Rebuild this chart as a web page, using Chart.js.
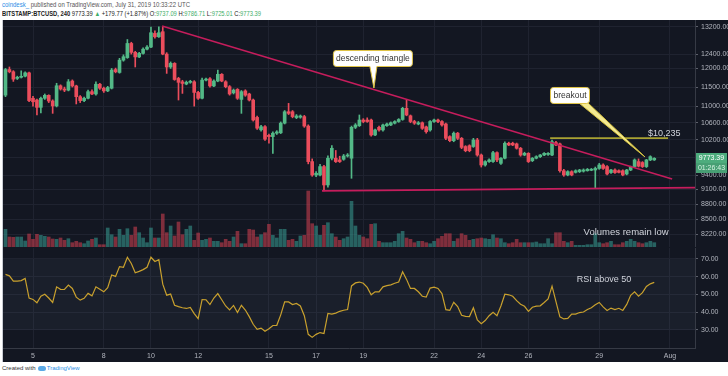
<!DOCTYPE html>
<html>
<head>
<meta charset="utf-8">
<script src="https://cdn.jsdelivr.net/npm/chart.js@4.4.0/dist/chart.umd.min.js"></script>
<style>
body { margin: 0; width: 728px; height: 376px; background: #fff; position: relative; overflow: hidden; font-family: 'Liberation Sans', Arial, sans-serif; }
.line { position: absolute; left: 2px; font-size: 6px; line-height: 8px; white-space: nowrap; color: #555; transform-origin: 0 0; transform: scaleY(1.2); }
#head1 { top: 0px; }
#head2 { top: 9px; color: #222; font-size: 5.8px; }
.brand { color: #2a8ee6; }
.up { color: #3fae6a; }
#frame { position: absolute; left: 2px; top: 20px; width: 725px; height: 342px; background: #131722; border-left: 1px solid #c9ccd3; }
#mainWrap { position: absolute; left: 0; top: 20px; }
#rsiWrap { position: absolute; left: 0; top: 248px; }
#foot { position: absolute; left: 2px; top: 364px; font-size: 6px; line-height: 9px; color: #333; white-space: nowrap; }
.logo { display: inline-block; width: 8px; height: 5px; background: #5aa9e6; border-radius: 3px; margin: 0 1px 0 2px; vertical-align: middle; }
canvas { display: block; }
</style>
</head>
<body>
<div id="head1" class="line"><span class="brand">coindesk_</span> published on TradingView.com, July 31, 2019 10:33:22 UTC</div>
<div id="head2" class="line"><b>BITSTAMP:BTCUSD, 240</b> 9773.39 <span class="up">&#9650;</span> +179.77 (+1.87%) O:<span class="up">9737.09</span> H:<span class="up">9786.71</span> L:<span class="up">9725.01</span> C:<span class="up">9773.39</span></div>
<div id="frame"></div>
<div id="mainWrap"><canvas id="main" width="728" height="227"></canvas></div>
<div id="rsiWrap"><canvas id="rsi" width="728" height="114"></canvas></div>
<div id="foot">Created with<span class="logo"></span><span class="brand">TradingView</span></div>

<script>
// time axis in days of July 2019, 4h candles starting Jul 3 20:00 UTC
const firstCandleDay = 3 + 20 / 24;
const candleHours = 4;
const dayTicks = [5, 8, 10, 12, 15, 17, 19, 22, 24, 26, 29, 32];
const dayLabels = ['5', '8', '10', '12', '15', '17', '19', '22', '24', '26', '29', 'Aug'];
const priceTicks = [8220, 8500, 8800, 9100, 9400, 9800, 10200, 10600, 11000, 11500, 12000, 12400, 13200];
const rsiTicks = [30, 40, 50, 60, 70];

const opens = [
    11290, 11970, 11910, 11730, 11760, 11790, 11880, 11210, 11165, 10980,
    11210, 11285, 11140, 11015, 11535, 11450, 11420, 11660, 11530, 11250,
    11150, 11210, 11380, 11320, 11575, 11470, 11400, 11470, 11970, 11890,
    12230, 12300, 12705, 12450, 12320, 12420, 12540, 12600, 13000, 12900,
    13050, 12400, 12040, 12140, 11730, 11640, 11580, 11625, 11640, 11360,
    11210, 11685, 11720, 11530, 11660, 11840, 11640, 11510, 11350, 11440,
    11180, 11400, 11320, 11165, 10730, 10430, 10505, 10300, 10270, 10350,
    10360, 10590, 10870, 10870, 10725, 10735, 10750, 10520, 9700, 9408,
    9408, 9590, 9196, 9775, 9775, 9737, 9752, 9825, 9775, 10490,
    10530, 10666, 10666, 10666, 10308, 10490, 10427, 10530, 10546, 10590,
    10630, 10680, 10955, 10770, 10630, 10570, 10600, 10500, 10427, 10630,
    10666, 10630, 10570, 10270, 10175, 10350, 10230, 10040, 10060, 10040,
    10191, 9847, 9625, 9700, 9700, 9900, 9662, 9775, 10115, 10115,
    10100, 10000, 9847, 9885, 9720, 9775, 9810, 9847, 9860, 9847,
    10130, 10100, 9500, 9408, 9480, 9465, 9480, 9490, 9500, 9510,
    9516, 9550, 9625, 9590, 9460, 9516, 9500, 9500, 9430, 9516,
    9590, 9700, 9680, 9590, 9737, 9737.09
];
const highs = [
    12000, 12040, 11940, 11790, 11935, 11910, 11900, 11260, 11190, 11240,
    11320, 11300, 11170, 11600, 11560, 11500, 11700, 11690, 11550, 11280,
    11240, 11420, 11430, 11640, 11600, 11500, 11520, 12000, 12010, 12280,
    12380, 12820, 12740, 12480, 12450, 12580, 12640, 13190, 13080, 13200,
    13180, 12440, 12180, 12160, 11760, 11680, 11660, 11680, 11670, 11390,
    11740, 11740, 11750, 11690, 11955, 11860, 11670, 11540, 11450, 11460,
    11410, 11430, 11340, 11190, 10760, 10540, 10530, 10330, 10380, 10410,
    10620, 10900, 11080, 10900, 10800, 10790, 10780, 10550, 9760, 9480,
    9640, 9620, 9830, 10060, 9950, 9820, 9860, 9880, 10520, 10580,
    10790, 10700, 10720, 10690, 10450, 10520, 10570, 10590, 10620, 10650,
    10700, 10980, 11165, 10790, 10660, 10630, 10620, 10520, 10650, 10690,
    10690, 10650, 10590, 10290, 10380, 10370, 10250, 10060, 10080, 10230,
    10230, 9870, 9720, 9760, 9930, 9920, 9790, 10150, 10140, 10140,
    10120, 10020, 9910, 9900, 9790, 9830, 9860, 9900, 9900, 10190,
    10160, 10120, 9530, 9500, 9500, 9520, 9530, 9540, 9550, 9550,
    9580, 9660, 9650, 9610, 9530, 9540, 9520, 9520, 9530, 9600,
    9760, 9760, 9700, 9750, 9830, 9786.71
];
const lows = [
    11250, 11880, 11650, 11700, 11740, 11770, 11120, 11010, 10790, 10840,
    11180, 11100, 10830, 10990, 11420, 11380, 11400, 11500, 11065, 11100,
    11120, 11190, 11300, 11290, 11440, 11360, 11380, 11450, 11880, 11870,
    12200, 12280, 12400, 12040, 12300, 12400, 12520, 12580, 12860, 12880,
    12380, 11865, 12000, 11680, 11165, 11335, 11560, 11600, 11010, 11180,
    11190, 11660, 11500, 11510, 11640, 11640, 11480, 11290, 11320, 11180,
    10830, 11260, 11140, 10640, 10440, 10400, 10180, 10115, 9885, 10320,
    10340, 10570, 10800, 10720, 10700, 10710, 10490, 9650, 9380, 9370,
    9390, 9070, 9150, 9740, 9680, 9680, 9730, 9800, 9337, 10460,
    10510, 10600, 10610, 10280, 10290, 10400, 10400, 10510, 10530, 10570,
    10610, 10660, 10770, 10600, 10560, 10550, 10440, 10350, 10400, 10610,
    10600, 10520, 10200, 10150, 10150, 10200, 9990, 9920, 9920, 10020,
    9820, 9580, 9600, 9680, 9680, 9700, 9640, 9760, 10060, 10060,
    9980, 9820, 9830, 9680, 9700, 9760, 9790, 9830, 9840, 9830,
    10060, 9470, 9380, 9390, 9390, 9450, 9460, 9470, 9490, 9500,
    9130, 9530, 9530, 9410, 9440, 9440, 9450, 9390, 9410, 9500,
    9570, 9580, 9570, 9570, 9720, 9725.01
];
const closes = [
    11970, 11910, 11710, 11760, 11785, 11880, 11150, 11120, 10980, 11210,
    11285, 11140, 11015, 11535, 11450, 11420, 11640, 11530, 11250, 11150,
    11210, 11380, 11320, 11575, 11470, 11400, 11490, 11955, 11910, 12230,
    12325, 12705, 12450, 12320, 12420, 12540, 12600, 13020, 12900, 13020,
    12400, 12040, 12140, 11700, 11625, 11595, 11625, 11640, 11360, 11210,
    11685, 11700, 11530, 11660, 11840, 11660, 11510, 11320, 11420, 11210,
    11380, 11290, 11165, 10666, 10470, 10505, 10210, 10270, 10350, 10380,
    10590, 10870, 10830, 10750, 10765, 10765, 10520, 9700, 9408, 9445,
    9590, 9196, 9775, 10000, 9700, 9700, 9825, 9847, 10490, 10546,
    10666, 10630, 10630, 10308, 10427, 10427, 10546, 10570, 10600, 10630,
    10680, 10955, 10790, 10630, 10590, 10600, 10466, 10385, 10630, 10666,
    10630, 10546, 10230, 10175, 10350, 10230, 10020, 9945, 9945, 10191,
    9847, 9625, 9700, 9737, 9900, 9737, 9775, 10115, 10075, 10075,
    10000, 9847, 9885, 9700, 9775, 9810, 9847, 9885, 9885, 10150,
    10075, 9500, 9408, 9480, 9408, 9500, 9516, 9516, 9530, 9530,
    9550, 9625, 9550, 9430, 9516, 9460, 9465, 9408, 9516, 9590,
    9737, 9600, 9590, 9737, 9810, 9773.39
];
const volumes = [
    3540, 2000, 1940, 2000, 2000, 1200, 2600, 1540, 2540, 2340,
    2140, 2000, 1600, 1540, 1800, 1340, 1660, 860, 1140, 860,
    660, 1200, 1540, 1800, 460, 460, 3800, 2460, 2000, 3540,
    2340, 3660, 2340, 4000, 2860, 1800, 860, 3800, 1800, 1800,
    6600, 2860, 4200, 2200, 5000, 2460, 3540, 4200, 1340, 2800,
    1340, 1540, 1800, 1140, 1140, 860, 1540, 1140, 2000, 3140,
    660, 660, 3540, 3400, 2000, 2460, 2860, 4540, 2340, 1800,
    3540, 3540, 1340, 1540, 1140, 2200, 2340, 11200, 4660, 4200,
    2340, 4340, 4860, 2660, 2000, 1340, 1660, 2000, 9140, 4200,
    2340, 2000, 1660, 4540, 4660, 1140, 860, 860, 860, 1140,
    2660, 3140, 1800, 1540, 860, 1140, 1140, 860, 660, 1140,
    1660, 2140, 2660, 2660, 1140, 1660, 2660, 2340, 1340, 1540,
    1660, 1800, 1660, 1540, 2460, 1800, 1660, 860, 660, 860,
    1540, 860, 860, 860, 860, 1000, 660, 660, 1660, 660,
    2860, 2860, 1140, 860, 1140, 340, 340, 340, 460, 460,
    2660, 860, 660, 860, 1140, 460, 460, 860, 1140, 1540,
    1140, 860, 660, 860, 1140, 860
];
const rsi = [
    61.3, 60.5, 57.5, 57.5, 57.8, 59, 48, 47.2, 45.3, 49,
    50.1, 48, 45.5, 54.3, 52.9, 52.8, 55.3, 53.4, 48.5, 46.8,
    47.8, 50.6, 49.2, 54.3, 52.9, 51.5, 53.8, 61, 60.2, 65.7,
    65.3, 71, 67.5, 62.2, 63, 64, 65.3, 71, 68.6, 69.6,
    55.8, 49.6, 50.2, 43.9, 43.1, 42.5, 42.1, 42.7, 39.2, 36.4,
    47.1, 47, 44.3, 48, 50.5, 47, 43.5, 41.3, 43.8, 39.8,
    43.9, 41.2, 37.5, 33.2, 30.3, 31, 29.2, 30.7, 32.5, 32.6,
    38.5, 45.8, 45.8, 44.3, 44.9, 43.5, 38, 27.5, 25.8, 27.5,
    28.5, 28, 39.3, 38.9, 39.5, 40.5, 41.1, 41.5, 54.8, 56.5,
    57, 56.3, 54, 49.8, 51.5, 51.5, 54.3, 55, 55.4, 56.3,
    57, 62.8, 58.5, 53.4, 53.4, 51.5, 49, 48.5, 53.6, 54.1,
    53.4, 50.5, 41.4, 41, 45.6, 43.2, 38.3, 37.6, 37.5, 42.5,
    35.6, 33.5, 35.3, 38, 40, 38, 43.5, 50.1, 49.8, 49,
    46.5, 44.5, 43.3, 40.5, 42.8, 43.4, 43.6, 45.5, 47.5, 54.7,
    46, 37.4, 36.2, 36.5, 38.9, 38.9, 39.8, 40.1, 41.5, 42.5,
    44.2, 45.5, 43, 41, 42.3, 41.5, 42.2, 41, 44.4, 49.5,
    51.5, 49, 51, 54.5, 56, 56.8
];

// drawn lines as [day, price]
const upperTrend = [[10.47, 13220], [32.09, 9323]];
const lowerTrend = [[17.25, 9072], [33.06, 9141]];
const resistance = [[26.92, 10235], [31.92, 10235]];
const resistanceLabel = '$10,235';
// callout tips as [day, price]
const triangleTip = [19.45, 11475];
const breakoutTip = [30.94, 9803];

const xMin = 3.728;
const xMax = 33.06;
const upColor = '#53b987';
const downColor = '#eb4d5c';
const gridColor = '#1f2330';
const axisLine = '#363a45';
const labelColor = '#b2b5be';

Chart.defaults.font.family = "'Liberation Sans', Arial, sans-serif";

function candleX(i) {
    return firstCandleDay + i * candleHours / 24;
}

function isUp(i) {
    return closes[i] >= opens[i];
}

function toPoints(pairs) {
    return pairs.map(p => ({ x: p[0], y: p[1] }));
}

function roundRect(ctx, x, y, w, h, r) {
    ctx.beginPath();
    ctx.moveTo(x + r, y);
    ctx.lineTo(x + w - r, y);
    ctx.quadraticCurveTo(x + w, y, x + w, y + r);
    ctx.lineTo(x + w, y + h - r);
    ctx.quadraticCurveTo(x + w, y + h, x + w - r, y + h);
    ctx.lineTo(x + r, y + h);
    ctx.quadraticCurveTo(x, y + h, x, y + h - r);
    ctx.lineTo(x, y + r);
    ctx.quadraticCurveTo(x, y, x + r, y);
    ctx.closePath();
}

function xAxisOptions(showLabels) {
    return {
        type: 'linear',
        min: xMin,
        max: xMax,
        offset: false,
        grid: { color: gridColor, offset: false, drawTicks: false },
        border: { display: true, color: axisLine },
        ticks: {
            display: showLabels,
            autoSkip: false,
            maxRotation: 0,
            color: labelColor,
            font: { size: 7 },
            padding: 4,
            callback: function (v) {
                const k = dayTicks.indexOf(v);
                return k >= 0 ? dayLabels[k] : '';
            }
        },
        afterBuildTicks: s => { s.ticks = dayTicks.map(v => ({ value: v })); },
        afterFit: s => {
            s.height = showLabels ? 14 : 0;
            s.paddingLeft = 0;
            s.paddingRight = 0;
        }
    };
}

function yAxisOptions(type, min, max, tickValues) {
    return {
        type: type,
        position: 'right',
        min: min,
        max: max,
        grid: { color: gridColor, tickColor: '#5d606b', tickLength: 3 },
        border: { display: true, color: axisLine },
        ticks: {
            color: labelColor,
            font: { size: 7 },
            padding: 3,
            autoSkip: false,
            callback: v => Number(v).toFixed(2)
        },
        afterBuildTicks: s => { s.ticks = tickValues.map(v => ({ value: v })); },
        afterFit: s => {
            s.width = 33;
            s.paddingTop = 0;
            s.paddingBottom = 0;
        }
    };
}

const mainOverlay = {
    id: 'mainOverlay',
    afterDraw(chart) {
        const ctx = chart.ctx;
        const xs = chart.scales.x;
        const ys = chart.scales.y;
        const area = chart.chartArea;

        ctx.save();
        ctx.textBaseline = 'middle';

        // resistance level label
        ctx.fillStyle = '#d1d4dc';
        ctx.font = "9px 'Liberation Sans', Arial, sans-serif";
        ctx.textAlign = 'left';
        ctx.fillText(resistanceLabel, xs.getPixelForValue(31.07), ys.getPixelForValue(resistance[0][1]) - 5);

        // "descending triangle" callout
        let tx = xs.getPixelForValue(triangleTip[0]);
        let ty = ys.getPixelForValue(triangleTip[1]);
        ctx.fillStyle = '#ffffff';
        ctx.strokeStyle = '#e0c444';
        ctx.lineWidth = 1;
        roundRect(ctx, tx - 40.5, ty - 37.5, 79, 16, 3);
        ctx.fill();
        ctx.stroke();
        ctx.beginPath();
        ctx.moveTo(tx - 4, ty - 21.5);
        ctx.lineTo(tx, ty);
        ctx.lineTo(tx + 3, ty - 21.5);
        ctx.fill();
        ctx.stroke();
        ctx.fillRect(tx - 3.5, ty - 23, 6, 2);
        ctx.fillStyle = '#333';
        ctx.font = "8.5px 'Liberation Sans', Arial, sans-serif";
        ctx.textAlign = 'center';
        ctx.fillText('descending triangle', tx - 1, ty - 29.5);

        // "breakout" callout
        tx = xs.getPixelForValue(breakoutTip[0]);
        ty = ys.getPixelForValue(breakoutTip[1]);
        ctx.fillStyle = '#f4ea92';
        ctx.strokeStyle = '#d8c440';
        ctx.beginPath();
        ctx.moveTo(tx - 66, ty - 54);
        ctx.lineTo(tx, ty);
        ctx.lineTo(tx - 57, ty - 54);
        ctx.closePath();
        ctx.fill();
        ctx.stroke();
        ctx.fillStyle = '#ffffff';
        ctx.strokeStyle = '#e0c444';
        roundRect(ctx, tx - 94.5, ty - 69.5, 39, 16, 3);
        ctx.fill();
        ctx.stroke();
        ctx.fillStyle = '#333';
        ctx.fillText('breakout', tx - 75, ty - 61.5);

        // volume note
        ctx.fillStyle = '#d1d4dc';
        ctx.font = "9.5px 'Liberation Sans', Arial, sans-serif";
        ctx.fillText('Volumes remain low', xs.getPixelForValue(30.14), area.bottom - 15);

        // last price tag on the axis
        const last = closes[closes.length - 1];
        const py = Math.round(ys.getPixelForValue(last));
        ctx.fillStyle = '#4dac7d';
        ctx.fillRect(area.right + 1, py - 5, 31, 10);
        ctx.fillStyle = '#479f74';
        ctx.fillRect(area.right + 1, py + 5, 31, 10);
        ctx.font = "7px 'Liberation Sans', Arial, sans-serif";
        ctx.fillStyle = '#ffffff';
        ctx.fillText(last.toFixed(2), area.right + 16.5, py);
        ctx.fillStyle = '#d7f3e3';
        ctx.fillText('01:26:43', area.right + 16.5, py + 10);
        ctx.restore();
    }
};

const rsiOverlay = {
    id: 'rsiOverlay',
    beforeDatasetsDraw(chart) {
        const ctx = chart.ctx;
        const ys = chart.scales.y;
        const area = chart.chartArea;
        const top = ys.getPixelForValue(70);
        const bottom = ys.getPixelForValue(30);
        ctx.save();
        ctx.fillStyle = 'rgba(130, 140, 175, 0.07)';
        ctx.fillRect(area.left, top, area.right - area.left, bottom - top);
        ctx.restore();
    },
    afterDraw(chart) {
        const ctx = chart.ctx;
        ctx.save();
        ctx.fillStyle = '#d1d4dc';
        ctx.font = "9px 'Liberation Sans', Arial, sans-serif";
        ctx.textAlign = 'center';
        ctx.textBaseline = 'middle';
        ctx.fillText('RSI above 50', chart.scales.x.getPixelForValue(29.2), chart.scales.y.getPixelForValue(58.7));
        ctx.restore();
    }
};

const candleColors = opens.map((o, i) => isUp(i) ? upColor : downColor);
const volumeColors = volumes.map((v, i) => isUp(i) ? 'rgba(56,160,150,0.55)' : 'rgba(200,62,78,0.6)');

new Chart(document.getElementById('main'), {
    data: {
        datasets: [{
            type: 'bar',
            yAxisID: 'yVol',
            data: volumes.map((v, i) => ({ x: candleX(i), y: v })),
            backgroundColor: volumeColors,
            barThickness: 3,
            grouped: false,
            order: 5
        }, {
            type: 'bar',
            yAxisID: 'y',
            data: highs.map((h, i) => ({ x: candleX(i), y: [lows[i], h] })),
            backgroundColor: candleColors,
            barThickness: 1,
            grouped: false,
            order: 4
        }, {
            type: 'bar',
            yAxisID: 'y',
            data: opens.map((o, i) => ({ x: candleX(i), y: [o, closes[i]] })),
            backgroundColor: candleColors,
            barThickness: 3,
            minBarLength: 1,
            grouped: false,
            order: 3
        }, {
            type: 'line',
            yAxisID: 'y',
            data: toPoints(upperTrend),
            borderColor: '#c51d5c',
            borderWidth: 1.6,
            pointRadius: 0,
            order: 2
        }, {
            type: 'line',
            yAxisID: 'y',
            data: toPoints(lowerTrend),
            borderColor: '#c51d5c',
            borderWidth: 1.6,
            pointRadius: 0,
            order: 2
        }, {
            type: 'line',
            yAxisID: 'y',
            data: toPoints(resistance),
            borderColor: '#a9a232',
            borderWidth: 1.6,
            pointRadius: 0,
            order: 1
        }]
    },
    options: {
        responsive: false,
        animation: false,
        events: [],
        layout: { padding: { left: 3, right: 0, top: 0, bottom: 0 } },
        plugins: { legend: { display: false }, tooltip: { enabled: false } },
        scales: {
            x: xAxisOptions(false),
            y: yAxisOptions('logarithmic', 7981, 13404, priceTicks),
            yVol: { type: 'linear', display: false, min: 0, max: 45400 }
        }
    },
    plugins: [mainOverlay]
});

new Chart(document.getElementById('rsi'), {
    type: 'line',
    data: {
        datasets: [{
            data: rsi.map((v, i) => ({ x: candleX(i), y: v })),
            borderColor: '#c9a12e',
            borderWidth: 1.2,
            pointRadius: 0,
            tension: 0
        }]
    },
    options: {
        responsive: false,
        animation: false,
        events: [],
        layout: { padding: { left: 3, right: 0, top: 0, bottom: 0 } },
        plugins: { legend: { display: false }, tooltip: { enabled: false } },
        scales: {
            x: xAxisOptions(true),
            y: yAxisOptions('linear', 19.8, 76.2, rsiTicks)
        }
    },
    plugins: [rsiOverlay]
});
</script>
</body>
</html>
